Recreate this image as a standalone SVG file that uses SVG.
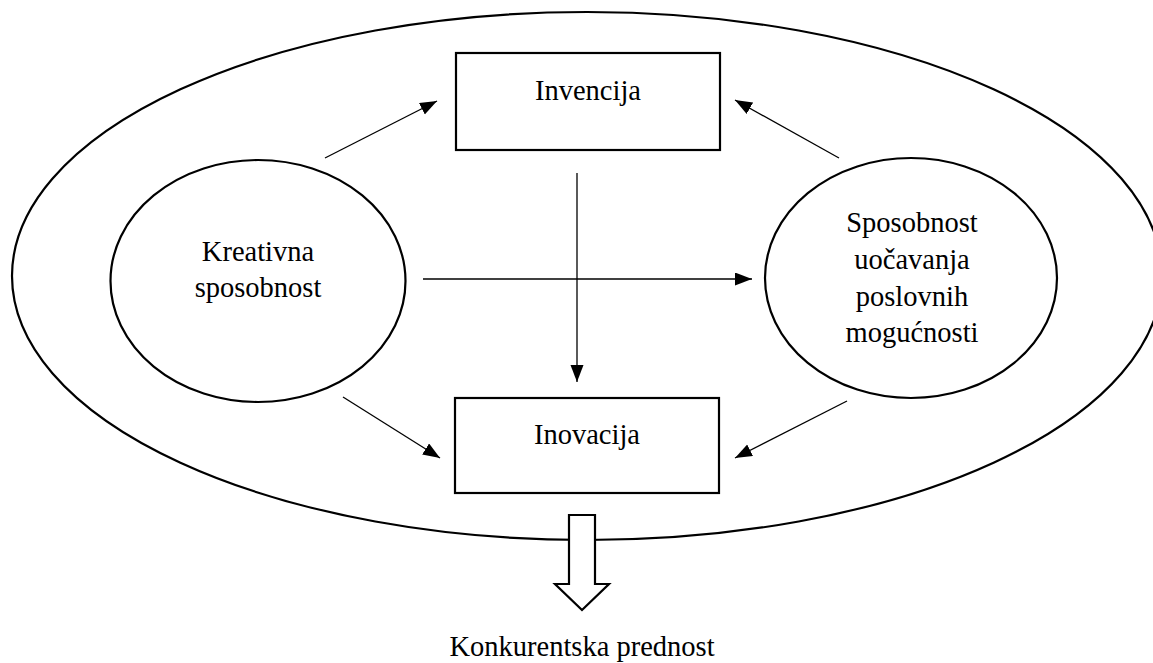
<svg xmlns="http://www.w3.org/2000/svg" width="1153" height="663" viewBox="0 0 1153 663">
  <style>
    .shape { fill: #ffffff; stroke: #000000; stroke-width: 2.2; }
    .link { fill: none; stroke: #000000; stroke-width: 1.3; }
    .label { font-family: "Liberation Serif", "Times New Roman", serif; font-size: 28.5px; fill: #000000; text-anchor: middle; }
  </style>
  <defs>
    <marker id="head" markerUnits="userSpaceOnUse" markerWidth="18" markerHeight="14" refX="17" refY="6.5" orient="auto">
      <path d="M0,0 L17,6.5 L0,13 Z" fill="#000000"/>
    </marker>
  </defs>

  <rect width="1153" height="663" fill="#ffffff"/>

  <!-- enclosing boundary -->
  <g id="boundary">
    <ellipse class="shape" cx="587" cy="276" rx="575" ry="264"/>
  </g>

  <g id="kreativna">
    <ellipse class="shape" cx="258" cy="281" rx="147.5" ry="121"/>
    <text class="label" x="258" y="261">Kreativna</text>
    <text class="label" x="258" y="297">sposobnost</text>
  </g>

  <g id="sposobnost">
    <ellipse class="shape" cx="911" cy="278" rx="146" ry="120"/>
    <text class="label" x="912" y="232">Sposobnost</text>
    <text class="label" x="912" y="269">uočavanja</text>
    <text class="label" x="912" y="306">poslovnih</text>
    <text class="label" x="912" y="342">mogućnosti</text>
  </g>

  <g id="invencija">
    <rect class="shape" x="456" y="53" width="264" height="97"/>
    <text class="label" x="588" y="100">Invencija</text>
  </g>

  <g id="inovacija">
    <rect class="shape" x="455" y="398" width="264" height="95"/>
    <text class="label" x="587" y="444">Inovacija</text>
  </g>

  <g id="connectors">
    <line class="link" x1="325" y1="158" x2="437" y2="101" marker-end="url(#head)"/>
    <line class="link" x1="839" y1="158" x2="735" y2="100" marker-end="url(#head)"/>
    <line class="link" x1="577" y1="173" x2="577" y2="382" marker-end="url(#head)"/>
    <line class="link" x1="423" y1="279" x2="752" y2="279" marker-end="url(#head)"/>
    <line class="link" x1="343" y1="397" x2="440" y2="458" marker-end="url(#head)"/>
    <line class="link" x1="847" y1="401" x2="735" y2="458" marker-end="url(#head)"/>
  </g>

  <!-- outcome: block arrow and result label -->
  <g id="konkurentska">
    <polygon class="shape" points="569,515 595,515 595,584 609,584 582,610 555,584 569,584"/>
    <text class="label" x="582" y="656">Konkurentska prednost</text>
  </g>
</svg>
